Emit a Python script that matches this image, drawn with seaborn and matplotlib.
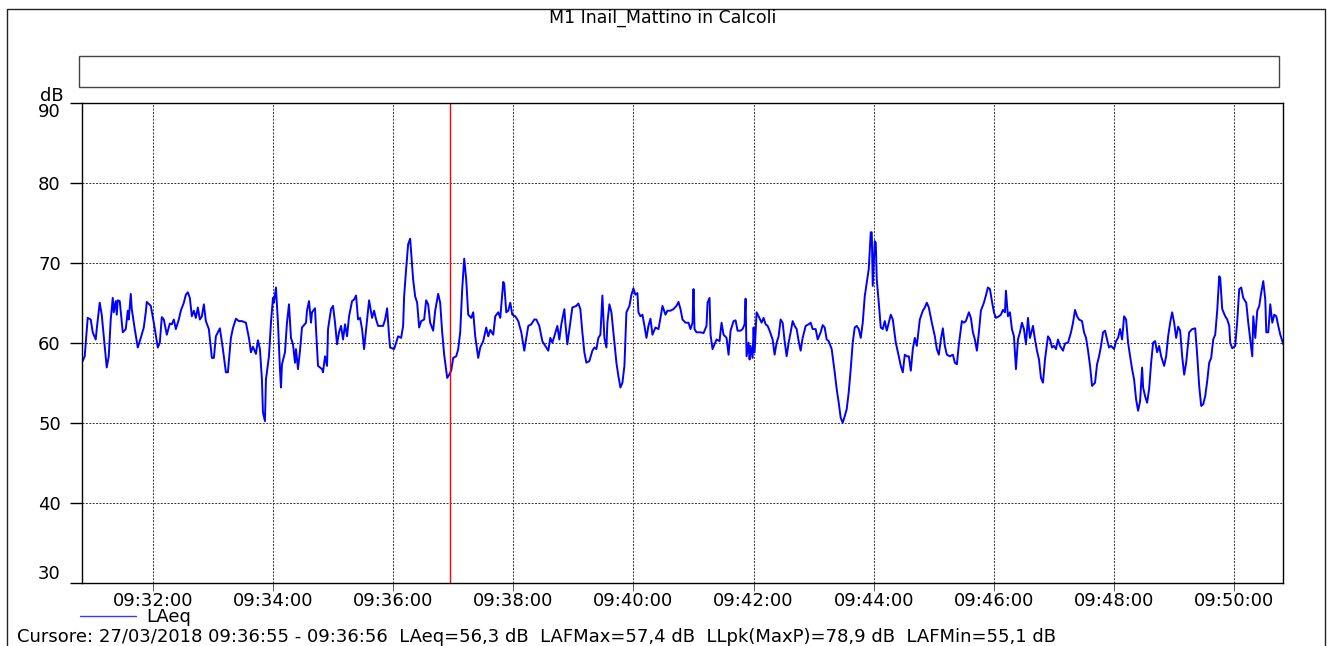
import pandas as pd
import matplotlib.pyplot as plt
import matplotlib.dates as mdates
from matplotlib.lines import Line2D
from matplotlib.patches import Rectangle
import seaborn as sns

title = "M1 Inail_Mattino in Calcoli"
series_name = "LAeq"
unit = "dB"
start_time = "2018-03-27 09:30:49"
end_time = "2018-03-27 09:50:49"
cursor_time = "2018-03-27 09:36:57"
cursor_text = ("Cursore: 27/03/2018 09:36:55 - 09:36:56  LAeq=56,3 dB  LAFMax=57,4 dB  "
               "LLpk(MaxP)=78,9 dB  LAFMin=55,1 dB")
y_ticks = [30, 40, 50, 60, 70, 80, 90]

# seconds after 09:30:49
offset_s = [
    0, 1, 3, 6, 9, 11, 14, 15, 18, 20, 22, 25, 27, 29, 31, 32, 34, 35, 36, 38,
    41, 44, 46, 47, 49, 50, 53, 56, 59, 62, 64, 65, 69, 72, 76, 78, 80, 82, 85, 88,
    90, 92, 94, 97, 99, 102, 104, 106, 108, 110, 112, 114, 116, 118, 120, 122, 124, 127, 130, 132,
    134, 136, 138, 141, 144, 146, 149, 151, 154, 157, 160, 164, 167, 169, 171, 174, 176, 178, 180, 181,
    183, 184, 187, 189, 191, 192, 194, 196, 198, 199, 200, 203, 205, 207, 209, 211, 213, 214, 216, 218,
    220, 224, 225, 227, 229, 230, 233, 234, 236, 240,
    241, 243, 245, 246, 249, 251, 253, 255, 257, 259, 261, 263, 265, 267, 270, 272, 274, 276, 278, 280,
    282, 285, 287, 290, 292, 294, 296, 301, 303, 305, 307, 308, 312, 314, 316, 319, 321, 322, 324, 326,
    328, 329, 331, 333, 335, 337, 339, 342, 344, 346, 348, 351, 353, 356, 358, 360, 362, 365, 367, 369,
    371, 374, 376, 378, 380, 382, 384, 386, 389, 391, 393, 396, 398, 401, 404, 406, 408, 411, 413, 416,
    418, 421, 422, 424, 426, 428, 430, 433, 436, 439, 442, 444, 446, 449, 452, 454, 457, 460, 462, 466,
    468, 470, 472, 475, 477, 479, 482,
    483, 485, 488, 490, 494, 496, 498, 500, 502, 504, 507, 510, 512, 514, 516, 518, 520, 522, 524, 525,
    527, 529, 531, 534, 536, 538, 540, 542, 544, 547, 549, 551, 553, 555, 556, 558, 560, 562, 564, 566,
    568, 570, 573, 576, 578, 580, 583, 585, 588, 591, 594, 596, 598, 600, 603, 606, 608, 610, 611, 612,
    614, 618, 621, 624, 625, 627, 628, 630, 632, 634, 637, 639, 641, 644, 646, 648, 651, 653, 655, 658,
    660, 662, 663, 664, 666, 667, 668, 670, 671, 672, 674, 676, 679, 681, 683, 685, 687, 690, 692, 694,
    696, 698, 700, 702, 704, 706, 708, 710, 712, 714, 716, 718, 720, 723,
    726, 728, 730, 733, 735, 738, 740, 742, 744, 746, 749, 752, 754, 756, 758, 760, 762, 764, 766, 768,
    770, 772, 774, 776, 778, 780, 782, 784, 786, 788, 789, 790, 792, 793, 794, 796, 798, 800, 802, 804,
    806, 808, 810, 813, 816, 818, 820, 822, 824, 826, 828, 830, 832, 834, 837, 840, 842, 844, 846, 849,
    852, 854, 856, 858, 860, 862, 864, 867, 870, 872, 874, 876, 879, 881, 883, 886, 888, 890, 892, 894,
    896, 898, 901, 903, 905, 907, 909, 911, 913, 916, 918, 920, 922, 923, 925, 927, 929, 931, 933, 935,
    937, 939, 941, 943, 945, 947, 950, 952, 954, 956, 958, 960, 962,
    965, 967, 969, 971, 973, 975, 977, 980, 982, 985, 988, 990, 992, 994, 996, 999, 1001, 1003, 1005, 1007,
    1009, 1012, 1014, 1016, 1018, 1020, 1022, 1024, 1026, 1028, 1031, 1033, 1035, 1037, 1039, 1041, 1043, 1045, 1047, 1049,
    1051, 1053, 1055, 1057, 1059, 1060, 1062, 1064, 1066, 1068, 1070, 1072, 1074, 1076, 1078, 1081, 1083, 1085, 1087, 1089,
    1091, 1093, 1095, 1097, 1099, 1101, 1103, 1105, 1106, 1109, 1112, 1114, 1116, 1118, 1120, 1122, 1124, 1126, 1128, 1130,
    1132, 1134, 1136, 1137, 1139, 1142, 1144, 1146, 1147, 1149, 1152, 1154, 1156, 1158, 1160, 1163, 1165, 1167, 1169, 1170,
    1172, 1174, 1176, 1178, 1180, 1182, 1183, 1185, 1187, 1189, 1191, 1193, 1195, 1197, 1200,
]

laeq_db = [
    58.3, 57.7, 58.3, 63.1, 62.9, 61.3, 60.4, 61.7, 65.0, 63.5, 60.8, 56.9, 58.3, 62.9, 65.6, 63.8, 65.2, 63.5, 65.3, 65.2,
    61.3, 61.7, 64.0, 62.9, 66.1, 64.2, 61.7, 59.4, 60.6, 61.9, 63.8, 65.1, 64.6, 62.5, 59.4, 60.0, 63.2, 62.9, 61.0, 62.4,
    62.3, 62.9, 61.7, 62.9, 64.0, 65.0, 66.0, 66.3, 65.6, 63.3, 64.0, 63.1, 64.4, 62.9, 63.3, 64.8, 62.7, 61.7, 58.1, 58.1,
    60.8, 61.3, 61.8, 59.2, 56.3, 56.3, 60.6, 61.8, 63.0, 62.7, 62.7, 62.5, 60.6, 58.8, 59.5, 58.6, 60.3, 59.2, 55.4, 51.3,
    50.2, 55.4, 58.3, 62.5, 65.6, 65.0, 66.9, 62.5, 56.7, 54.4, 57.3, 58.8, 62.5, 64.8, 60.6, 59.8, 57.5, 59.2, 56.7, 59.0,
    61.9, 62.5, 64.0, 65.2, 62.5, 63.8, 64.3, 61.7, 57.1, 56.7,
    56.3, 58.3, 57.1, 61.7, 64.2, 64.6, 62.5, 59.8, 61.3, 62.1, 60.4, 62.3, 60.8, 63.3, 65.2, 65.4, 65.9, 62.9, 63.1, 61.7,
    59.2, 62.9, 65.3, 63.1, 64.0, 62.9, 62.1, 62.1, 62.9, 64.3, 60.8, 59.4, 59.2, 60.0, 60.8, 60.6, 62.1, 65.8, 69.2, 72.3,
    73.0, 71.3, 67.9, 65.8, 65.0, 61.9, 62.7, 62.9, 65.3, 64.8, 62.5, 61.5, 64.0, 66.1, 65.0, 61.3, 58.5, 55.6, 56.0, 56.5,
    58.1, 58.3, 59.2, 61.3, 66.7, 70.5, 67.9, 63.5, 63.1, 63.8, 60.8, 58.1, 59.4, 60.2, 61.9, 60.8, 61.6, 61.0, 63.3, 63.8,
    63.1, 67.6, 67.3, 63.8, 64.0, 65.0, 63.5, 63.3, 62.7, 61.3, 59.0, 60.6, 62.1, 62.3, 62.9, 62.9, 62.1, 60.2, 59.8, 59.0,
    60.6, 60.0, 60.8, 62.1, 60.4, 62.3, 64.2,
    62.5, 59.8, 62.5, 64.4, 64.6, 64.9, 64.2, 61.3, 58.8, 57.5, 57.7, 59.0, 59.4, 59.2, 60.6, 61.0, 65.9, 60.6, 59.4, 62.5,
    64.8, 63.8, 61.3, 57.5, 55.8, 54.4, 55.0, 57.1, 63.8, 64.6, 66.0, 66.8, 66.0, 66.2, 63.8, 63.3, 63.5, 62.1, 60.6, 62.1,
    63.0, 61.0, 61.9, 61.7, 63.1, 64.6, 63.5, 64.0, 64.0, 64.2, 64.6, 65.1, 64.2, 62.9, 62.5, 62.5, 61.7, 62.5, 66.7, 61.7,
    61.3, 61.3, 61.2, 62.1, 65.0, 65.6, 61.0, 59.2, 59.8, 60.4, 60.2, 62.5, 61.0, 60.6, 58.5, 61.5, 62.7, 62.8, 61.5, 61.5,
    61.7, 62.3, 65.5, 58.3, 60.0, 57.9, 59.6, 58.1, 61.9, 58.8, 63.8, 63.3, 62.5, 63.1, 62.3, 62.1, 61.5, 60.4, 58.5, 60.0,
    60.8, 62.9, 62.5, 60.2, 58.3, 60.0, 61.3, 62.7, 62.1, 61.7, 60.2, 59.0, 60.6, 62.1,
    62.3, 62.5, 61.7, 61.7, 60.4, 61.3, 62.2, 61.9, 60.4, 60.2, 59.2, 56.3, 54.2, 52.5, 50.6, 50.0, 50.8, 51.7, 53.8, 56.7,
    60.0, 61.9, 62.1, 61.7, 60.6, 62.5, 65.8, 67.5, 69.2, 73.8, 73.8, 67.1, 72.7, 72.5, 67.9, 65.0, 61.9, 61.7, 62.7, 61.5,
    62.5, 63.5, 62.9, 60.0, 58.3, 57.1, 56.3, 58.5, 58.3, 58.3, 56.5, 59.2, 60.6, 59.6, 62.9, 64.0, 64.4, 65.0, 64.4, 62.5,
    60.8, 59.2, 58.5, 60.4, 61.8, 59.6, 58.5, 58.3, 58.5, 57.5, 57.3, 59.8, 62.7, 62.5, 62.7, 63.8, 63.1, 61.3, 60.4, 59.0,
    61.3, 64.0, 65.0, 65.9, 66.9, 66.7, 65.2, 63.8, 63.1, 63.3, 63.5, 64.1, 63.8, 66.5, 63.3, 63.8, 61.7, 60.8, 56.7, 60.4,
    61.3, 62.5, 61.7, 59.8, 63.1, 60.6, 62.1, 60.4, 59.0, 57.9, 55.6, 55.0, 57.9,
    60.8, 60.4, 59.4, 59.6, 59.2, 60.4, 59.6, 59.0, 59.9, 60.0, 61.3, 62.5, 64.1, 63.3, 62.9, 62.7, 61.3, 60.6, 59.0, 57.1,
    54.6, 55.0, 57.3, 58.3, 59.6, 61.3, 61.5, 60.4, 59.4, 59.6, 59.2, 60.2, 60.6, 61.7, 60.4, 63.3, 62.9, 60.0, 58.3, 56.7,
    55.4, 52.9, 51.5, 52.7, 56.9, 54.4, 53.3, 52.5, 54.2, 57.5, 60.0, 60.2, 58.8, 59.6, 58.3, 57.1, 58.3, 60.8, 62.5, 63.8,
    62.5, 60.6, 62.0, 61.5, 58.3, 56.0, 57.5, 60.0, 61.3, 61.7, 61.8, 58.5, 54.6, 52.1, 52.3, 53.3, 55.2, 57.5, 58.1, 60.4,
    61.0, 64.0, 68.3, 68.1, 64.2, 63.3, 62.9, 62.1, 60.0, 59.3, 59.6, 62.7, 66.7, 66.9, 65.6, 65.0, 62.5, 60.4, 58.3, 63.3,
    60.6, 64.0, 64.6, 66.3, 67.7, 65.4, 61.3, 61.3, 64.8, 62.5, 63.5, 63.3, 62.1, 61.0, 59.8,
]

W, H = 1327, 646


def fx(px):
    return px / W


def fy(py):
    return 1 - py / H


sns.set_theme(style="white")
plt.rcParams['font.family'] = ['DejaVu Sans']
plt.rcParams['text.color'] = 'black'

fig = plt.figure(figsize=(W / 100, H / 100), dpi=100)
ax = fig.add_axes([fx(81.7), fy(582.7), fx(1283.3) - fx(81.7), fy(102.7) - fy(582.7)])

df = pd.DataFrame({
    "time": pd.Timestamp(start_time) + pd.to_timedelta(offset_s, unit="s"),
    series_name: laeq_db,
})
sns.lineplot(data=df, x="time", y=series_name, ax=ax, color="#0000ff",
             linewidth=1.4, estimator=None, legend=False)

# cursor line
ax.axvline(pd.Timestamp(cursor_time), color="#ff0000", linewidth=1.0)

ax.set_xlim(pd.Timestamp(start_time), pd.Timestamp(end_time))
ax.set_ylim(30, 90)
ax.set_yticks(y_ticks)
ax.xaxis.set_major_locator(mdates.MinuteLocator(byminute=range(0, 60, 2)))
ax.xaxis.set_major_formatter(mdates.DateFormatter("%H:%M:%S"))
ax.grid(True, color="#333333", linestyle=(0, (2, 1.5)), linewidth=0.7)
ax.set_xlabel("")
ax.set_ylabel("")
for s in ax.spines.values():
    s.set_color("black")
    s.set_linewidth(1.0)
ax.tick_params(axis="x", bottom=True, length=6, width=0.7, color="#555555",
               pad=0.5, labelsize=13, labelcolor="black")
ax.tick_params(axis="y", left=True, length=9, width=1.0, color="black",
               pad=6, labelsize=13, labelcolor="black")
ylabels = ax.get_yticklabels()
ylabels[0].set_va("bottom")
ylabels[-1].set_va("top")

# frame, header box, texts
fig.add_artist(Line2D([fx(7.3), fx(7.3), fx(1325), fx(1325)],
                      [fy(660), fy(9.3), fy(9.3), fy(660)],
                      transform=fig.transFigure, color="#222222", linewidth=1.0))
fig.add_artist(Rectangle((fx(79.3), fy(87.3)), fx(1279.3) - fx(79.3), fy(55.7) - fy(87.3),
                         transform=fig.transFigure, facecolor="none",
                         edgecolor="#444444", linewidth=1.0))
fig.text(fx(663), fy(18), title, ha="center", va="center", fontsize=12.5, color="black")
fig.text(fx(64), fy(96), unit, ha="right", va="center", fontsize=13, color="black")
fig.text(fx(17), fy(637), cursor_text, ha="left", va="center", fontsize=13, color="black")

fig.legend(handles=[Line2D([], [], color="#3a3aff", linewidth=1.0)], labels=[series_name],
           loc="center left", bbox_to_anchor=(fx(80), fy(617)), frameon=False,
           handlelength=3.1, handletextpad=0.55, borderpad=0, borderaxespad=0,
           fontsize=13, labelcolor="black")

fig.savefig("out.png", dpi=100)
